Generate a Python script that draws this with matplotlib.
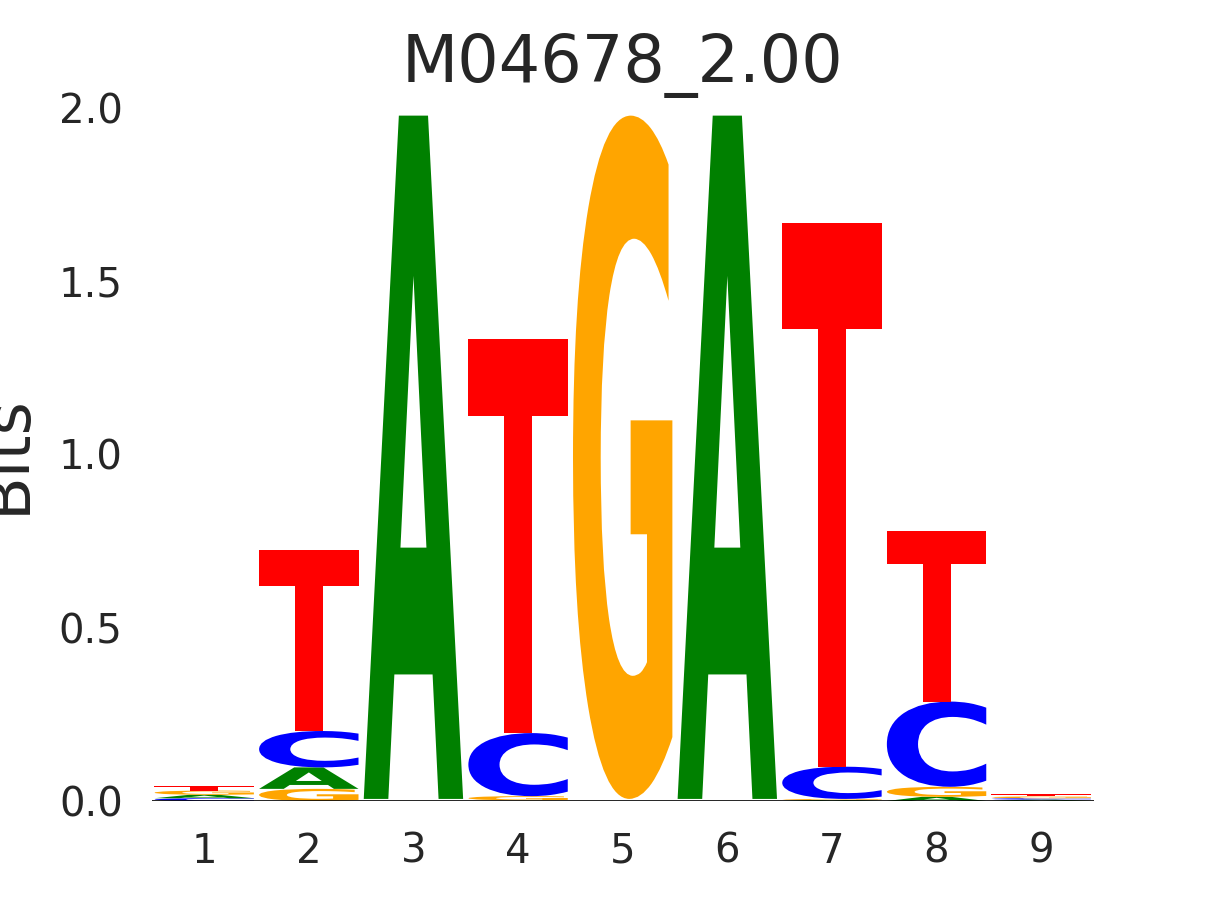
import matplotlib
matplotlib.use('Agg')
import matplotlib.pyplot as plt
from matplotlib.textpath import TextPath
from matplotlib.patches import PathPatch
from matplotlib.font_manager import FontProperties
from matplotlib.transforms import Affine2D

plt.rcParams['font.family'] = 'DejaVu Sans'

# information content (bits) per position
positions = [1, 2, 3, 4, 5, 6, 7, 8, 9]
bits_A = [0.010, 0.062, 1.972, 0.002, 0.002, 1.972, 0.003, 0.012, 0.004]
bits_C = [0.008, 0.105, 0.002, 0.182, 0.002, 0.002, 0.093, 0.246, 0.004]
bits_G = [0.012, 0.035, 0.002, 0.012, 1.972, 0.002, 0.003, 0.029, 0.005]
bits_T = [0.014, 0.521, 0.002, 1.137, 0.002, 0.002, 1.569, 0.492, 0.006]

colors = {'A': '#008000', 'C': '#0000ff', 'G': '#ffa500', 'T': '#ff0000'}
title = 'M04678_2.00'

fp = FontProperties(family='DejaVu Sans', weight='bold')


def draw_letter(ax, letter, x, bottom, height, width=0.95):
    path = TextPath((0, 0), letter, size=1, prop=fp)
    ext = path.get_extents()
    tr = (Affine2D()
          .translate(-ext.x0, -ext.y0)
          .scale(width / ext.width, height / ext.height)
          .translate(x - width / 2, bottom))
    p = tr.transform_path(path)
    ax.add_patch(PathPatch(p, facecolor=colors[letter], edgecolor='none'))


fig, ax = plt.subplots(figsize=(12.15, 9), dpi=100)

data = {'A': bits_A, 'C': bits_C, 'G': bits_G, 'T': bits_T}
for i, pos in enumerate(positions):
    stack = sorted(data.keys(), key=lambda k: data[k][i])
    y = 0.0
    for letter in stack:
        h = data[letter][i]
        # letters this thin do not show up in the original
        if h > 0.0025:
            draw_letter(ax, letter, pos, y, h)
        y += h

ax.axhline(0, color='black', linewidth=1.2, zorder=5)

ax.set_xlim(0.5, 9.5)
ax.set_ylim(0, 2.0)
ax.set_xticks(positions)
ax.set_yticks([0.0, 0.5, 1.0, 1.5, 2.0])
ax.set_yticklabels(['0.0', '0.5', '1.0', '1.5', '2.0'])

for s in ax.spines.values():
    s.set_visible(False)

ax.tick_params(axis='both', length=0, labelsize=29, colors='#262626')
ax.tick_params(axis='x', pad=22)
ax.tick_params(axis='y', pad=21)

ax.set_ylabel('Bits', fontsize=46, color='#262626', labelpad=15)
ax.set_title(title, fontsize=47, color='#262626', pad=19)

plt.savefig('out.png', dpi=100)
